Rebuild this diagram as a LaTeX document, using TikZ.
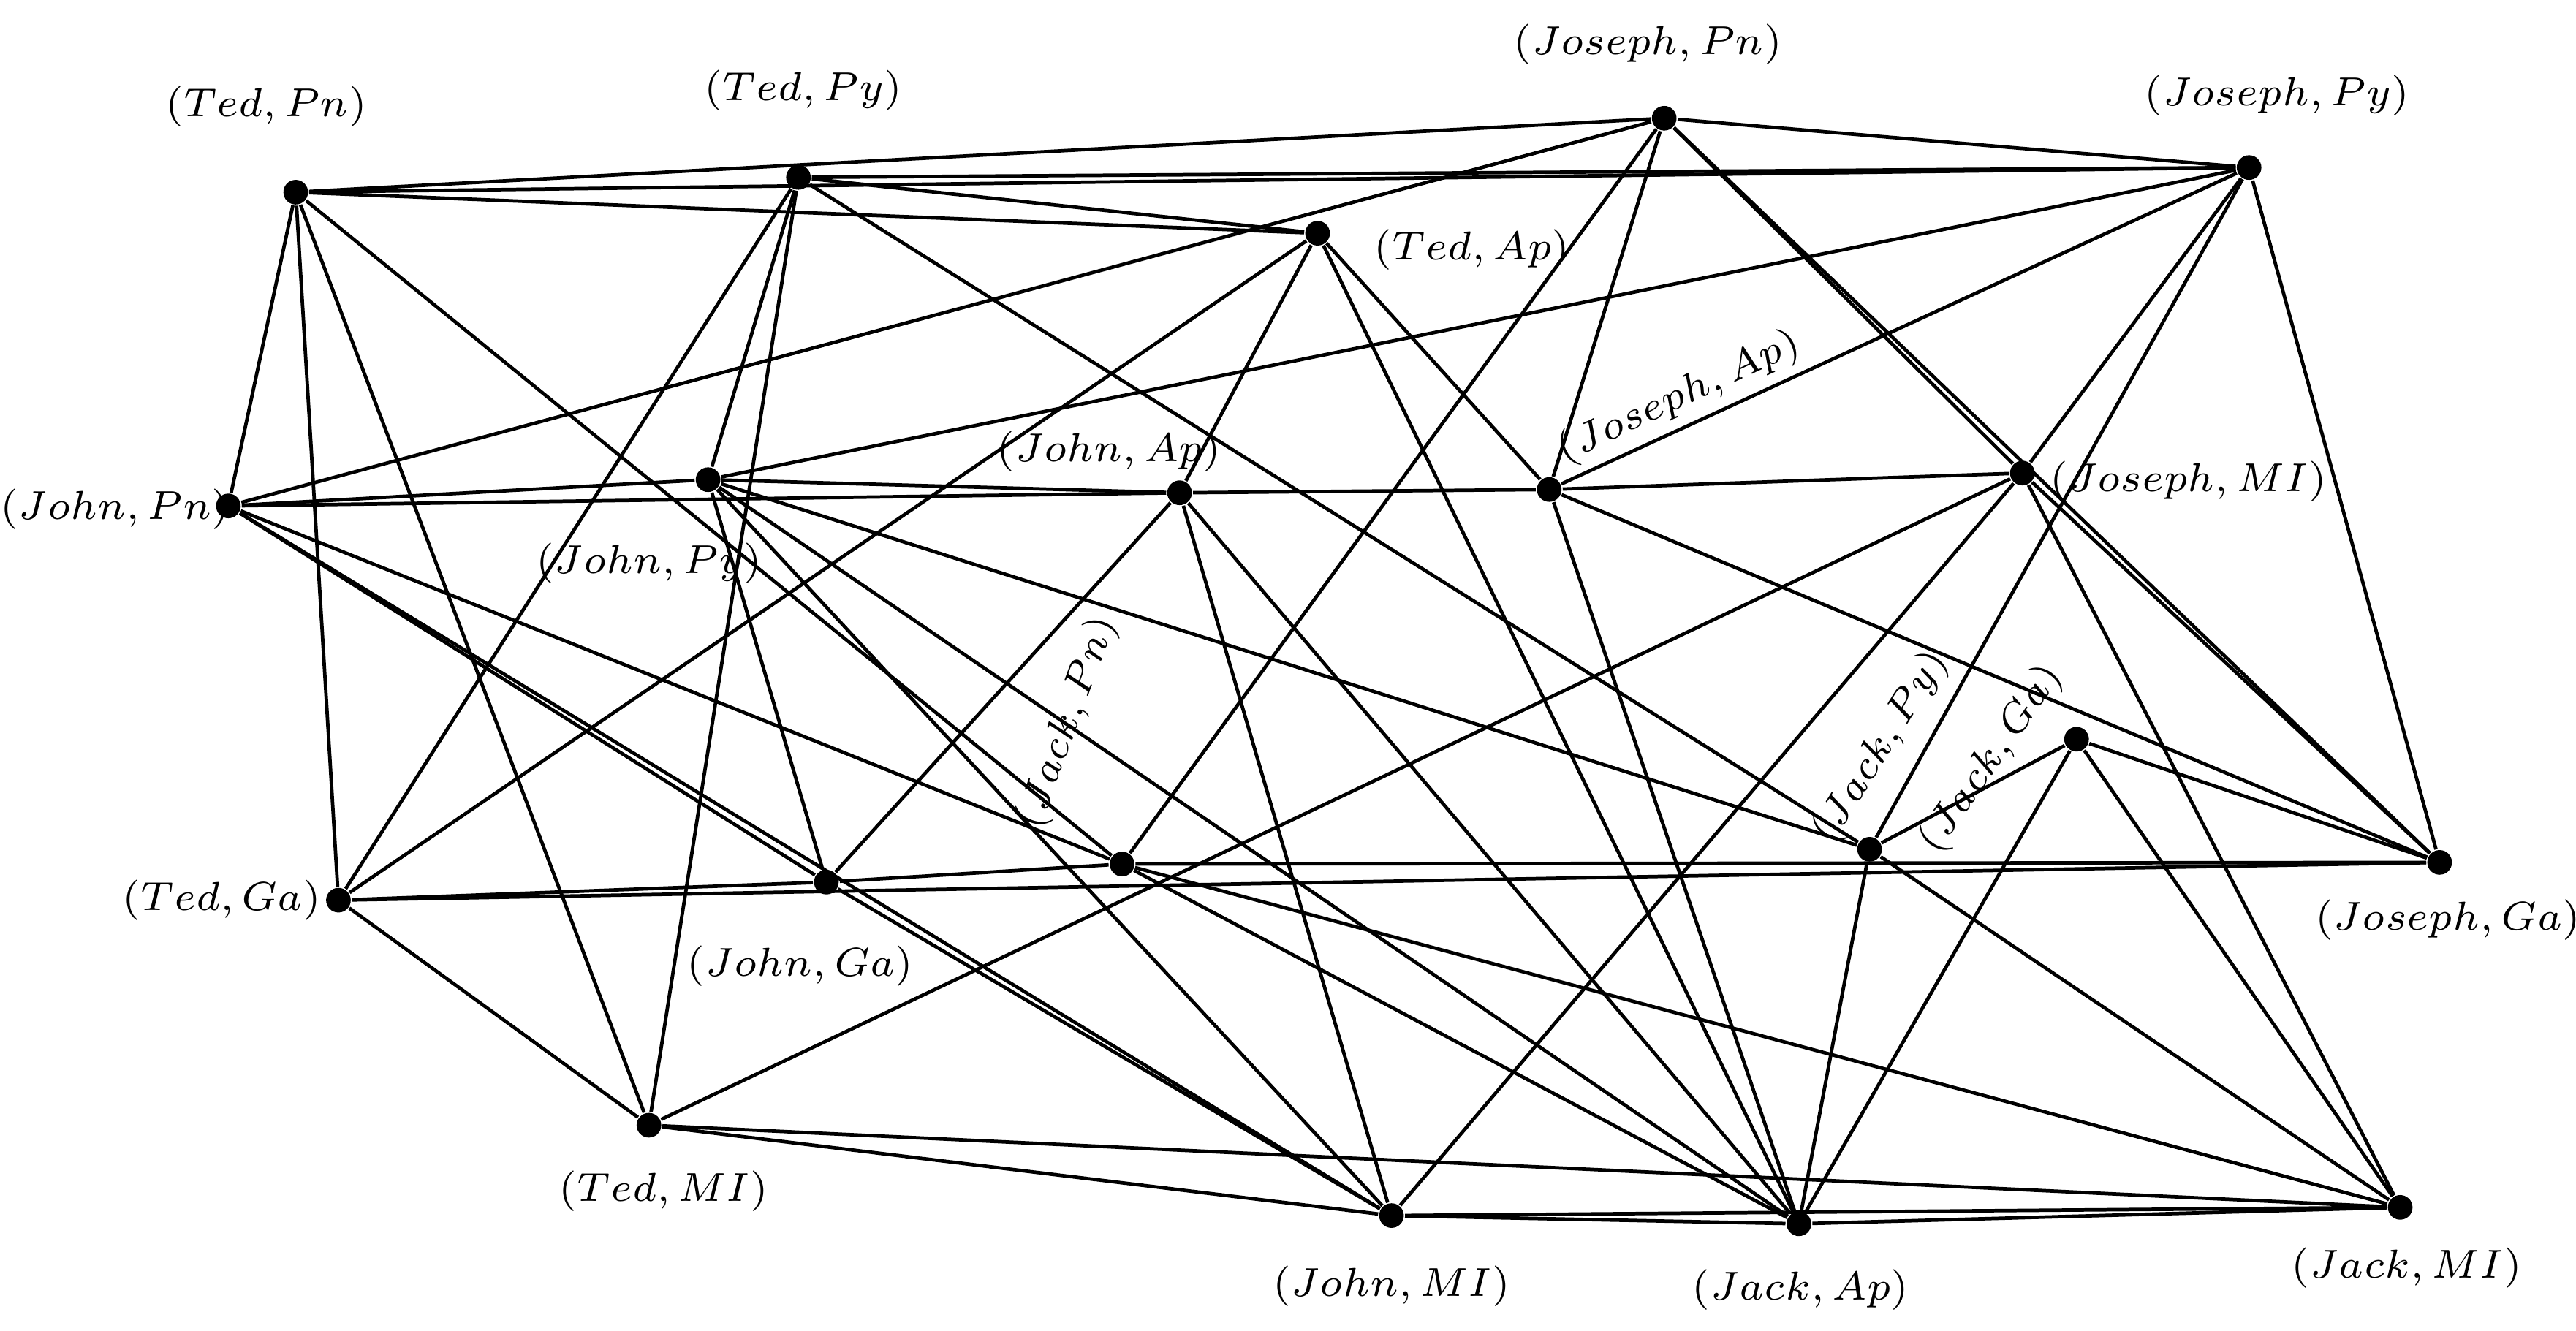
\documentclass[tikz,border=0pt]{standalone}
\begin{document}
\begin{tikzpicture}[x=0.01cm,y=-0.01cm,
  v/.style={circle,fill=black,inner sep=0pt,minimum size=0.15cm},
  e/.style={line width=0.6pt},
  l/.style={font=\fontsize{7.3}{9}\selectfont,inner sep=1pt}]
\useasboundingbox (0,0) rectangle (1568,810);
\node[v] (TedPn) at (180,117) {};
\node[v] (TedPy) at (486,108) {};
\node[v] (TedAp) at (802,142) {};
\node[v] (JosephPn) at (1013,72) {};
\node[v] (JosephPy) at (1369,102) {};
\node[v] (JohnPn) at (139,308) {};
\node[v] (JohnPy) at (431,292) {};
\node[v] (JohnAp) at (718,300) {};
\node[v] (JosephAp) at (943,298) {};
\node[v] (JosephMI) at (1231,288) {};
\node[v] (JackGa) at (1264,450) {};
\node[v] (JackPy) at (1138,517) {};
\node[v] (JosephGa) at (1485,525) {};
\node[v] (JackPn) at (683,526) {};
\node[v] (JohnGa) at (503,537) {};
\node[v] (TedGa) at (206,548) {};
\node[v] (TedMI) at (395,685) {};
\node[v] (JohnMI) at (847,740) {};
\node[v] (JackAp) at (1095,745) {};
\node[v] (JackMI) at (1461,735) {};
\node[l] (lTedPn) at (162,65) {$(Ted,Pn)$};
\node[l] (lTedPy) at (489,55) {$(Ted,Py)$};
\node[l] (lJosephPn) at (1003,27) {$(Joseph,Pn)$};
\node[l] (lJosephPy) at (1386,58) {$(Joseph,Py)$};
\node[l] (lTedAp) at (896,152) {$(Ted,Ap)$};
\node[l] (lJohnPn) at (70,310) {$(John,Pn)$};
\node[l] (lJohnPy) at (395,343) {$(John,Py)$};
\node[l] (lJohnAp) at (675,275) {$(John,Ap)$};
\node[l,rotate=25] (lJosephAp) at (1022,242) {$(Joseph,Ap)$};
\node[l] (lJosephMI) at (1332,293) {$(Joseph,MI)$};
\node[l,rotate=70] (lJackPn) at (650,440) {$(Jack,Pn)$};
\node[l,rotate=58] (lJackPy) at (1145,455) {$(Jack,Py)$};
\node[l,rotate=55] (lJackGa) at (1212,462) {$(Jack,Ga)$};
\node[l] (lJosephGa) at (1490,560) {$(Joseph,Ga)$};
\node[l] (lTedGa) at (135,548) {$(Ted,Ga)$};
\node[l] (lJohnGa) at (487,588) {$(John,Ga)$};
\node[l] (lTedMI) at (404,725) {$(Ted,MI)$};
\node[l] (lJohnMI) at (847,783) {$(John,MI)$};
\node[l] (lJackAp) at (1096,785) {$(Jack,Ap)$};
\node[l] (lJackMI) at (1465,772) {$(Jack,MI)$};
\foreach \a/\b in {TedPn/JosephPn,TedPn/JosephPy,TedPn/TedAp,TedPn/JohnPn,TedPn/TedGa,TedPn/TedMI,TedPn/JackPn,
 TedPy/JosephPy,TedPy/TedAp,TedPy/JackPy,TedPy/TedGa,TedPy/JohnPy,TedPy/TedMI,
 TedAp/TedGa,TedAp/JohnAp,TedAp/JosephAp,TedAp/JackAp,
 JosephPn/JosephPy,JosephPn/JohnPn,JosephPn/JosephAp,JosephPn/JackPn,JosephPn/JosephMI,JosephPn/JosephGa,
 JosephPy/JohnPy,JosephPy/JosephAp,JosephPy/JosephMI,JosephPy/JackPy,JosephPy/JosephGa,
 JohnPn/JohnAp,JohnPn/JohnPy,JohnPn/JackPn,JohnPn/JohnGa,JohnPn/JohnMI,
 JohnPy/JohnAp,JohnPy/JackPy,JohnPy/JohnGa,JohnPy/JohnMI,JohnPy/JackAp,
 JohnAp/JosephAp,JohnAp/JohnGa,JohnAp/JohnMI,JohnAp/JackAp,
 JosephAp/JosephMI,JosephAp/JackAp,JosephAp/JosephGa,
 JosephMI/TedMI,JosephMI/JohnMI,JosephMI/JackMI,JosephMI/JosephGa,
 TedGa/JohnGa,TedGa/JosephGa,TedGa/TedMI,JohnGa/JackPn,JackPn/JosephGa,JohnGa/JohnMI,
 JackPn/JackMI,JackPn/JackAp,
 TedMI/JohnMI,TedMI/JackMI,JohnMI/JackAp,JohnMI/JackMI,JackAp/JackMI,
 JackPy/JackGa,JackPy/JackAp,JackPy/JackMI,JackGa/JackAp,JackGa/JackMI,JackGa/JosephGa}
 \draw[e] (\a) -- (\b);
\end{tikzpicture}
\end{document}
